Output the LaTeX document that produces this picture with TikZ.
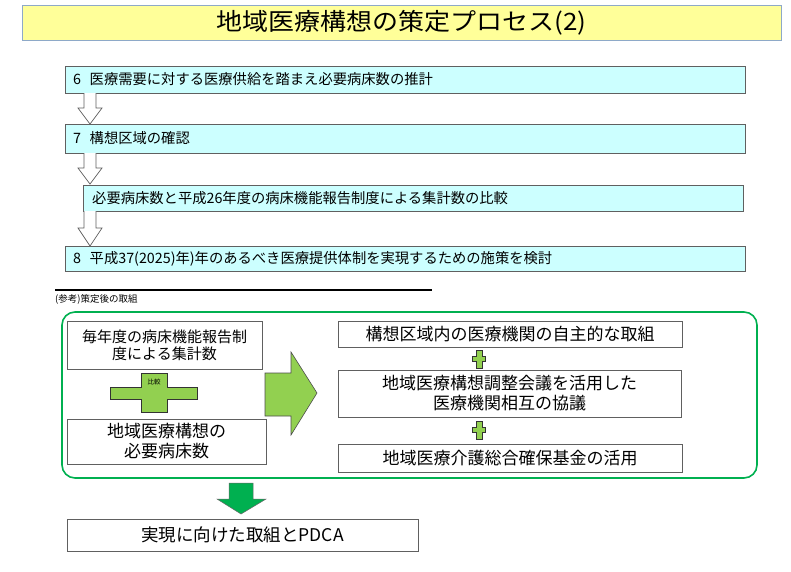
\documentclass[tikz,border=0pt]{standalone}
\usepackage{fontspec}
\setmainfont{Noto Sans CJK JP}
\definecolor{titlefill}{HTML}{FFFF99}
\definecolor{titledraw}{HTML}{8EA9C8}
\definecolor{cyanfill}{HTML}{CCFFFF}
\definecolor{boxdraw}{HTML}{606060}
\definecolor{lgreen}{HTML}{92D050}
\definecolor{dgreen}{HTML}{00B050}
\begin{document}
\begin{tikzpicture}[x=1pt,y=-1pt,
  stepbox/.style={draw=boxdraw,fill=cyanfill,line width=0.8pt},
  plainbox/.style={draw=boxdraw,fill=white,line width=0.8pt},
  steptext/.style={anchor=west,inner sep=0pt,font=\fontsize{14.3}{16}\selectfont},
  bigtext/.style={align=center,inner sep=0pt,font=\fontsize{17}{20}\selectfont},
  hollow/.style={draw=boxdraw,fill=white,line width=0.7pt},
  cross/.style={draw=black!80,fill=lgreen,line width=0.6pt}]
\useasboundingbox (0,0) rectangle (791,571);
% title
\node[draw=titledraw,fill=titlefill,line width=0.8pt,minimum width=759pt,minimum height=35pt,inner sep=0pt,
  font=\fontsize{26}{28}\selectfont] (title) at (401.5,22.5) {\scalebox{1}[0.92]{地域医療構想の策定プロセス(2)}};
% step boxes
\draw[stepbox] (65,66) rectangle (745,93);
\node[steptext] (s6) at (73,79.5) {6\hspace{0.6em}医療需要に対する医療供給を踏まえ必要病床数の推計};
\draw[stepbox] (65,124) rectangle (745,153);
\node[steptext] (s7) at (73,138.5) {7\hspace{0.6em}構想区域の確認};
\draw[stepbox] (83,185) rectangle (743,211);
\node[steptext] (s7b) at (92,198) {必要病床数と平成26年度の病床機能報告制度による集計数の比較};
\draw[stepbox] (65,246) rectangle (745,271);
\node[steptext] (s8) at (73,258.5) {8\hspace{0.6em}平成37(2025)年)年のあるべき医療提供体制を実現するための施策を検討};
% hollow arrows
\foreach \a/\b/\c in {93/108/124,153/168/184,211/228/246}{
  \draw[hollow] (84,\a) -- (84,\b) -- (78,\b) -- (90,\c) -- (102,\b) -- (96,\b) -- (96,\a);
}
% separator line
\draw[line width=1.8pt] (55,290) -- (432,290);
\node[anchor=west,inner sep=0pt,font=\fontsize{9.5}{11}\selectfont] (ref) at (55,299) {(参考)策定後の取組};
% green frame
\draw[draw=dgreen,line width=1.6pt,rounded corners=13pt] (62,312) rectangle (757,478);
% left boxes
\node[plainbox,minimum width=195pt,minimum height=48pt,inner sep=0pt,font=\fontsize{15}{17}\selectfont,align=center] (l1) at (164.5,345) {毎年度の病床機能報告制\\度による集計数};
\node[plainbox,minimum width=199pt,minimum height=45pt,inner sep=0pt,bigtext] (l2) at (166.5,441.5) {地域医療構想の\\必要病床数};
% comparison cross
\draw[cross] (141,373) -- (167,373) -- (167,387) -- (197,387) -- (197,399) -- (167,399) -- (167,412) -- (141,412) -- (141,399) -- (110,399) -- (110,387) -- (141,387) -- cycle;
\node[inner sep=0pt,font=\fontsize{6.5}{7}\selectfont] (cmp) at (154,382) {比較};
% big arrow
\draw[draw=black!70,fill=lgreen,line width=0.6pt] (265,373) -- (291,373) -- (291,352) -- (317,393) -- (291,435) -- (291,416) -- (265,416) -- cycle;
% right boxes
\node[plainbox,minimum width=344pt,minimum height=26pt,inner sep=0pt,bigtext] (r1) at (510,334) {構想区域内の医療機関の自主的な取組};
\node[plainbox,minimum width=343pt,minimum height=47pt,inner sep=0pt,bigtext] (r2) at (509.5,393.5) {地域医療構想調整会議を活用した\\医療機関相互の協議};
\node[plainbox,minimum width=344pt,minimum height=28pt,inner sep=0pt,bigtext] (r3) at (510,458) {地域医療介護総合確保基金の活用};
% small pluses
\foreach \c in {359,430}{
  \draw[cross,line width=0.5pt] (476,\c-9) -- (482,\c-9) -- (482,\c-2.5) -- (485,\c-2.5) -- (485,\c+2.5) -- (482,\c+2.5) -- (482,\c+9) -- (476,\c+9) -- (476,\c+2.5) -- (472,\c+2.5) -- (472,\c-2.5) -- (476,\c-2.5) -- cycle;
}
% down green arrow
\draw[draw=black!60,fill=dgreen,line width=0.5pt] (229,483) -- (253,483) -- (253,499) -- (266,499) -- (241,514) -- (217,499) -- (229,499) -- cycle;
% bottom box
\node[plainbox,minimum width=351pt,minimum height=32pt,inner sep=0pt,font=\fontsize{17.5}{20}\selectfont] (bot) at (242.5,535) {実現に向けた取組とPDCA};
\end{tikzpicture}
\end{document}
